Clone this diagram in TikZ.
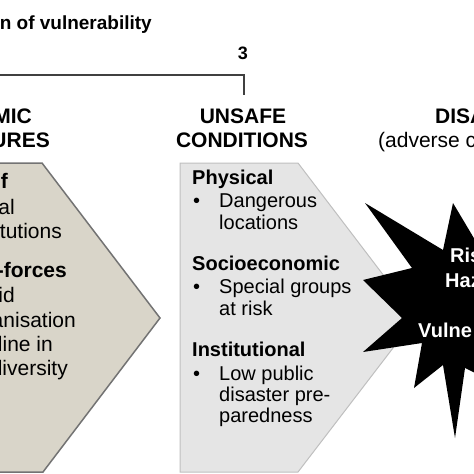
\documentclass[tikz,border=0pt]{standalone}
\usepackage{fontspec}
\setmainfont{Liberation Sans}
\usetikzlibrary{positioning}

\begin{document}
\begin{tikzpicture}[
        x=1pt, y=-1pt,
        head/.style={font=\fontsize{21}{24}\selectfont\bfseries, inner sep=0pt},
        txt/.style={font=\fontsize{20}{23}\selectfont, inner sep=0pt, anchor=base west},
        sub/.style={font=\fontsize{20}{23}\selectfont\bfseries, inner sep=0pt, anchor=base west},
        cut/.style={font=\fontsize{21}{24}\selectfont, inner sep=0pt, anchor=base east},
        cutbold/.style={cut, font=\fontsize{21}{24}\selectfont\bfseries},
        startxt/.style={font=\fontsize{20}{23}\selectfont\bfseries, text=white, inner sep=0pt, anchor=base west},
        pressbox/.style={draw=black!55, line width=1.5pt, fill=pressfill},
        condbox/.style={draw=black!25, line width=1pt, fill=black!10},
        bracket/.style={draw=black!75, line width=1.2pt}
    ]
        \definecolor{pressfill}{RGB}{217,213,201}
        \useasboundingbox (0,0) rectangle (474,474);
        \clip (0,0) rectangle (474,474);

        % Top title and bracket
        \node[font=\fontsize{19}{22}\selectfont\bfseries, inner sep=0pt, anchor=base east] (title) at (152,29) {n of vulnerability};
        \node[font=\fontsize{18}{21}\selectfont\bfseries, inner sep=0pt, anchor=base] (three) at (243,59) {3};
        \coordinate (brL) at (-5,75);
        \coordinate (brR) at (244,95);
        \draw[bracket] (brL) -| (brR);

        % Column headers
        \node[head, anchor=base east] (dyn1) at (32,123) {MIC};
        \node[head, anchor=base east] (dyn2) at (50,147) {URES};
        \node[head, anchor=base] (uns1) at (243,123) {UNSAFE};
        \node[head, anchor=base] (uns2) at (242,147) {CONDITIONS};
        \node[head, anchor=base west] (dis1) at (435,123) {DISA};
        \node[font=\fontsize{21}{24}\selectfont, inner sep=0pt, anchor=base west] (dis2) at (378,147) {(adverse c};

        % Left Column (pressures)
        \draw[pressbox] (-40,163) -- (42,163) -- (160,318) -- (43,472) -- (-40,472);
        \node[cutbold] (p1) at (8,188) {f};
        \node[cut] (p2) at (15,214) {al};
        \node[cut] (p3) at (62,238) {tutions};
        \node[cutbold] (p4) at (67,277) {-forces};
        \node[cut] (p5) at (15,302) {id};
        \node[cut] (p6) at (76,327) {anisation};
        \node[cut] (p7) at (53,351) {line in};
        \node[cut] (p8) at (68,375) {diversity};

        % Middle Column (conditions)
        \draw[condbox] (180,163) -- (298,163) -- (416,318) -- (298,472) -- (180,472) -- cycle;
        \node[sub] (phys) at (192,184) {Physical};
        \node[txt] (b1) at (193,207) {\textbullet};
        \node[txt] (dang) at (219,207) {Dangerous};
        \node[txt] (loc) at (219,229) {locations};
        \node[sub] (socio) at (192,270) {Socioeconomic};
        \node[txt] (b2) at (193,293) {\textbullet};
        \node[txt] (spec) at (219,293) {Special groups};
        \node[txt] (risk) at (219,315) {at risk};
        \node[sub] (inst) at (192,356) {Institutional};
        \node[txt] (b3) at (193,380) {\textbullet};
        \node[txt] (low) at (219,380) {Low public};
        \node[txt] (pre) at (219,401) {disaster pre-};
        \node[txt] (pared) at (219,422) {paredness};

        % Right Column (disaster star)
        \fill[black] (365,203) -- (412,268) -- (363,280) -- (402,318) -- (363,352)
            -- (422,343) -- (414,388) -- (443,365) -- (455,438) -- (465,368)
            -- (500,385) -- (500,240) -- (478,245) -- (453,203) -- (443,250) -- cycle;
        \node[startxt] (s1) at (450,262) {Ris};
        \node[startxt] (s2) at (445,287) {Haz};
        \node[startxt] (s3) at (418,337) {Vulne};

    \end{tikzpicture}
\end{document}
